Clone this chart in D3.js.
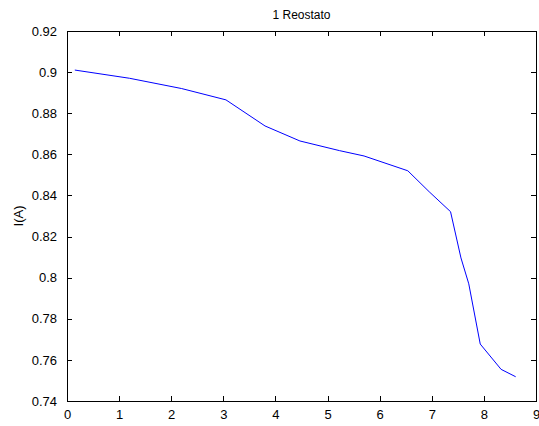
<!DOCTYPE html>
<html><head><meta charset="utf-8">
<script src="https://cdn.jsdelivr.net/npm/d3@7"></script>
<style>body{margin:0;background:#fff}svg{display:block}</style>
</head><body>
<script>
const xValues = [0.15, 1.2, 2.2, 3.05, 3.8, 4.47, 5.23, 5.7, 6.54, 6.95, 7.36, 7.56, 7.71, 7.93, 8.33, 8.61];
const yValues = [0.901, 0.897, 0.892, 0.8865, 0.8738, 0.8665, 0.8618, 0.8592, 0.852, 0.8418, 0.8321, 0.8096, 0.797, 0.7677, 0.7554, 0.7518];
const xTicks = [0,1,2,3,4,5,6,7,8,9];
const yTicks = [0.74,0.76,0.78,0.8,0.82,0.84,0.86,0.88,0.9,0.92];
const title = "1 Reostato";
const yLabel = "I(A)";

const W = 539, H = 426;
const m = {left: 67, right: 3, top: 31, bottom: 25};
const svg = d3.select("body").append("svg").attr("width", W).attr("height", H)
  .style("font-family", "'Liberation Sans', Arial, sans-serif");
const x = d3.scaleLinear().domain([0, 9]).range([m.left, W - m.right]);
const y = d3.scaleLinear().domain([0.74, 0.92]).range([H - m.bottom, m.top]);

const fmt = d => d3.format("")(+d.toFixed(2));

// box
svg.append("rect").attr("x", x(0)).attr("y", y(0.92)).attr("width", x(9) - x(0)).attr("height", y(0.74) - y(0.92))
  .attr("fill", "none").attr("stroke", "#000").attr("stroke-width", 1).attr("shape-rendering", "crispEdges");

const ax = (g) => g.selectAll(".domain").remove();
svg.append("g").attr("transform", `translate(0,${y(0.74)})`)
  .call(d3.axisBottom(x).tickValues(xTicks).tickSizeInner(-5).tickSizeOuter(0).tickPadding(9).tickFormat(d3.format("d")))
  .call(ax);
svg.append("g").attr("transform", `translate(0,${y(0.92)})`)
  .call(d3.axisTop(x).tickValues(xTicks).tickSizeInner(-5).tickSizeOuter(0).tickFormat(""))
  .call(ax);
svg.append("g").attr("transform", `translate(${x(0)},0)`)
  .call(d3.axisLeft(y).tickValues(yTicks).tickSizeInner(-5).tickSizeOuter(0).tickPadding(10).tickFormat(fmt))
  .call(ax);
svg.append("g").attr("transform", `translate(${x(9)},0)`)
  .call(d3.axisRight(y).tickValues(yTicks).tickSizeInner(-5).tickSizeOuter(0).tickFormat(""))
  .call(ax);
svg.selectAll(".tick line").attr("stroke", "#000").attr("shape-rendering", "crispEdges");
svg.selectAll(".tick text").attr("font-size", 13).attr("fill", "#000").attr("font-family", "'Liberation Sans', Arial, sans-serif");

// line
svg.append("path").datum(xValues.map((v, i) => [v, yValues[i]]))
  .attr("d", d3.line().x(d => x(d[0])).y(d => y(d[1])))
  .attr("fill", "none").attr("stroke", "#0000ff").attr("stroke-width", 1);

svg.append("text").attr("x", (x(0) + x(9)) / 2).attr("y", 19).attr("text-anchor", "middle")
  .attr("font-size", 12).text(title);
svg.append("text").attr("transform", `translate(23,${(y(0.74)+y(0.92))/2}) rotate(-90)`)
  .attr("text-anchor", "middle").attr("font-size", 13).text(yLabel);
</script>
</body></html>
